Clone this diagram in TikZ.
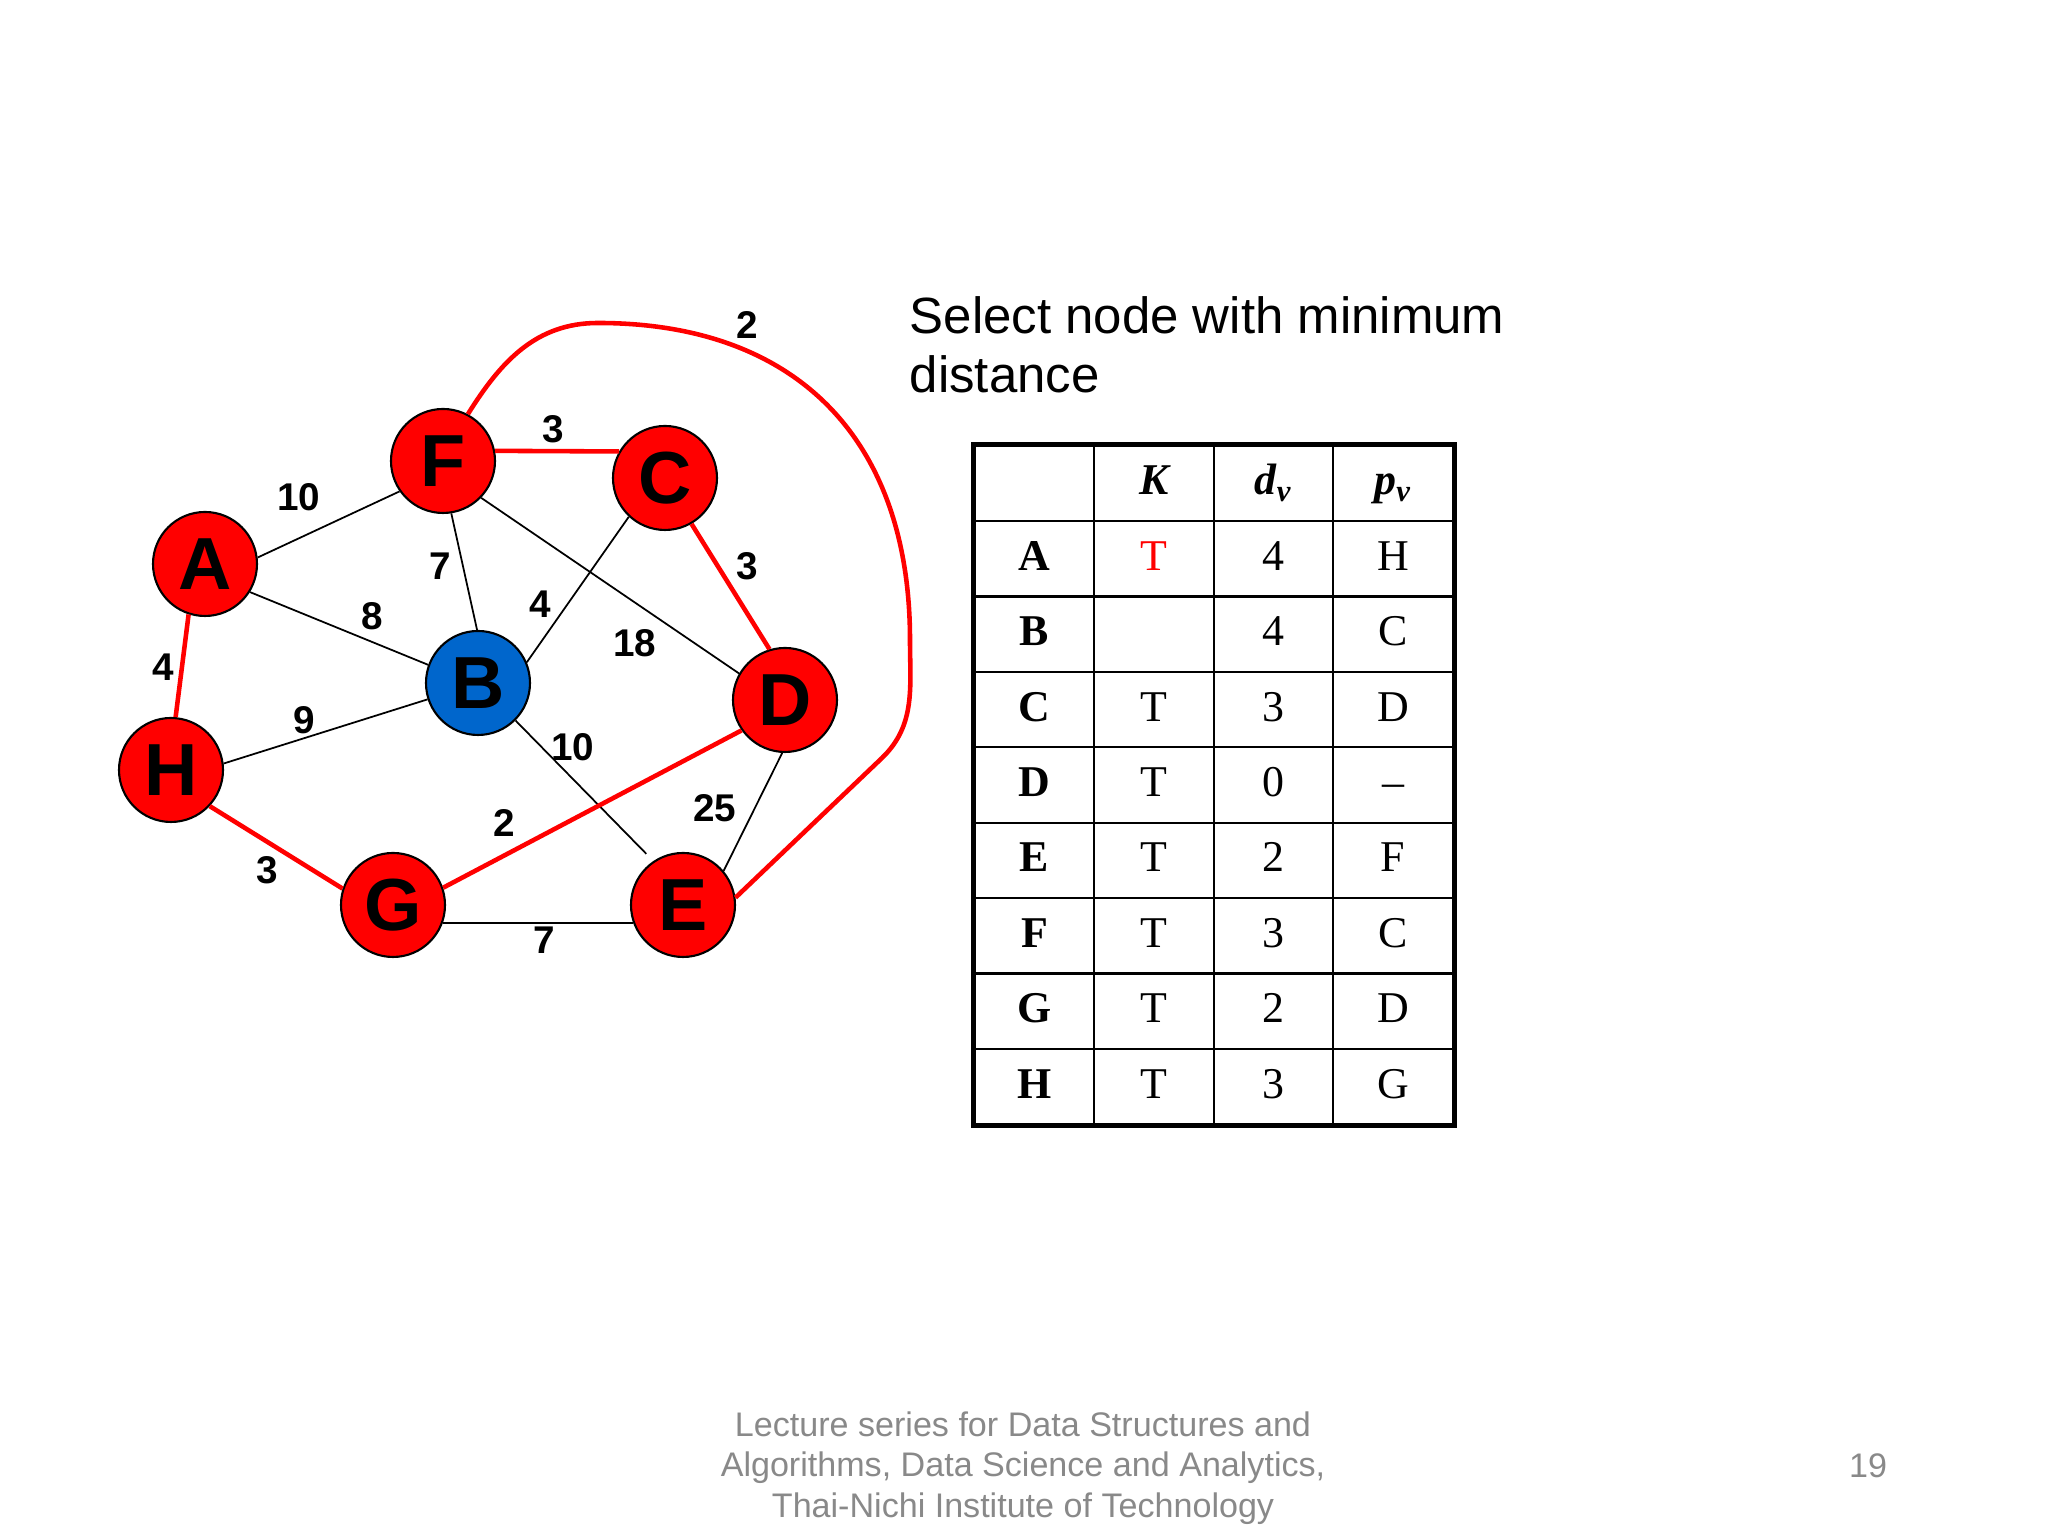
\documentclass[tikz,border=0pt]{standalone}
\usepackage{fontspec}
\setmainfont{Liberation Serif}
\setsansfont{Liberation Sans}
\usetikzlibrary{matrix}
\definecolor{vred}{RGB}{255,0,0}
\definecolor{vblue}{RGB}{0,102,204}
\definecolor{footgray}{RGB}{137,137,137}
\tikzset{
    vtx/.style={circle,draw=black,line width=0.6pt,fill=vred,minimum size=1.04cm,inner sep=0pt,
        font=\sffamily\bfseries\fontsize{21}{21}\selectfont},
    edge/.style={draw=black,line width=0.5pt},
    redge/.style={draw=vred,line width=1.3pt},
    wt/.style={font=\sffamily\bfseries\fontsize{11}{11}\selectfont,inner sep=0pt},
    cell/.style={draw,line width=0.6pt,minimum width=1.195cm,minimum height=0.754cm,inner sep=0pt,
        text height=9pt,text depth=2.5pt,anchor=center},
}

\begin{document}
\begin{tikzpicture}
		\useasboundingbox (0,0) rectangle (20.48,15.36);
		% vertices
		\node[vtx] (F) at (4.43,10.75) {F};
		\node[vtx] (C) at (6.65,10.58) {C};
		\node[vtx] (A) at (2.05,9.72) {A};
		\node[vtx,fill=vblue] (B) at (4.78,8.53) {B};
		\node[vtx] (D) at (7.85,8.36) {D};
		\node[vtx] (H) at (1.71,7.66) {H};
		\node[vtx] (G) at (3.93,6.31) {G};
		\node[vtx] (E) at (6.83,6.31) {E};
		% edges
		\draw[edge] (A.7) -- (F.215);
		\draw[edge] (A.-32) -- (B.160);
		\draw[edge] (F.-81) -- (B.91);
		\draw[edge] (F.-44) -- (D.150);
		\draw[edge] (C.227) -- (B.23);
		\draw[edge] (H.7) -- (B.198);
		\draw[edge,shorten >=0.1cm] (B.-45) -- (E.124);
		\draw[edge] (D.-93) -- (E.40);
		\draw[edge] (G.-20) -- (E.200);
		\draw[redge] (A.-108) -- (H.85);
		\draw[redge] (F.11) -- (C.150);
		\draw[redge] (C.-60) -- (D.107);
		\draw[redge] (H.-43) -- (G.162);
		\draw[redge] (G.19) -- (D.215);
		\coordinate (arcTop) at (5.98,12.13);
		\coordinate (arcRight) at (9.10,8.96);
		\coordinate (arcLow) at (8.82,7.78);
		\draw[redge] (F.62) to[out=58,in=180] (arcTop) to[out=0,in=90,looseness=1.15] (arcRight)
			to[out=-90,in=44] (arcLow) -- (E.8);
		% weights
		\node[wt] (wFE) at (7.47,12.11) {2};
		\node[wt] (wFC) at (5.53,11.07) {3};
		\node[wt] (wAF) at (2.99,10.39) {10};
		\node[wt] (wFB) at (4.40,9.70) {7};
		\node[wt] (wCD) at (7.47,9.70) {3};
		\node[wt] (wAB) at (3.72,9.20) {8};
		\node[wt] (wCB) at (5.40,9.32) {4};
		\node[wt] (wFD) at (6.35,8.93) {18};
		\node[wt] (wAH) at (1.63,8.69) {4};
		\node[wt] (wHB) at (3.04,8.16) {9};
		\node[wt] (wBE) at (5.73,7.89) {10};
		\node[wt] (wDE) at (7.15,7.28) {25};
		\node[wt] (wGD) at (5.04,7.13) {2};
		\node[wt] (wHG) at (2.67,6.66) {3};
		\node[wt] (wGE) at (5.44,5.96) {7};
		% title
		\node[anchor=north west,align=left,inner sep=0pt,font=\sffamily\fontsize{14.5}{16.7}\selectfont] (title) at (9.09,12.40) {Select node with minimum\\distance};
		% table
		\matrix (tbl) [matrix of nodes,nodes in empty cells,anchor=north west,inner sep=0pt,
			nodes={cell,font=\fontsize{12.5}{12.5}\selectfont},
			column sep=-0.6pt,row sep=-0.6pt,
			column 1/.style={nodes={font=\bfseries\fontsize{12.5}{12.5}\selectfont}},
			row 1/.style={nodes={font=\bfseries\itshape\fontsize{12.5}{12.5}\selectfont}}] at (9.73,10.92) {
			  & K & d\textsubscript{v} & p\textsubscript{v} \\
			A & |[text=vred]| T & 4 & H \\
			B &   & 4 & C \\
			C & T & 3 & D \\
			D & T & 0 & -- \\
			E & T & 2 & F \\
			F & T & 3 & C \\
			G & T & 2 & D \\
			H & T & 3 & G \\
		};
		\draw[line width=1.35pt] (tbl.north west) rectangle (tbl.south east);
		% footer
		\node[anchor=north,align=center,inner sep=0pt,text=footgray,font=\sffamily\fontsize{9.7}{11.5}\selectfont] (foot) at (10.23,1.25) {Lecture series for Data Structures and\\Algorithms, Data Science and Analytics,\\Thai-Nichi Institute of Technology};
		\node[anchor=base,inner sep=0pt,text=footgray,font=\sffamily\fontsize{9.7}{11.5}\selectfont] (pgno) at (18.68,0.588) {19};
	\end{tikzpicture}
\end{document}
